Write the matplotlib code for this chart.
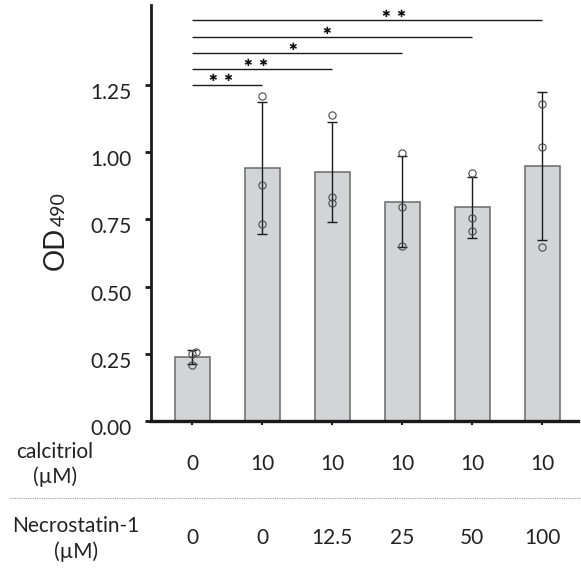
import matplotlib
matplotlib.use("Agg")
import matplotlib.pyplot as plt
import matplotlib.transforms as mtransforms
from matplotlib.lines import Line2D
import numpy as np

plt.rcParams['font.family'] = ['Lato', 'DejaVu Sans']

# ---------------- data ----------------
calcitriol = ["0", "10", "10", "10", "10", "10"]
necrostatin = ["0", "0", "12.5", "25", "50", "100"]
means = [0.238, 0.941, 0.927, 0.816, 0.795, 0.949]
sd = [0.026, 0.247, 0.186, 0.170, 0.113, 0.274]
points = [
    [0.258, 0.249, 0.208],
    [1.210, 0.877, 0.732],
    [1.138, 0.834, 0.810],
    [0.996, 0.795, 0.652],
    [0.921, 0.755, 0.708],
    [1.181, 1.019, 0.646],
]
point_dx = [
    [0.05, 0.0, 0.0],
    [0.0, 0.0, 0.0],
    [0.0, 0.0, 0.0],
    [0.0, 0.0, 0.0],
    [0.0, 0.0, 0.0],
    [0.0, 0.0, 0.0],
]
# significance brackets: (from group, to group, y level, label, label x)
sig_from = [0, 0, 0, 0, 0]
sig_to = [1, 2, 3, 4, 5]
sig_y = [1.250, 1.309, 1.368, 1.428, 1.491]
sig_label = ["✱  ✱", "✱  ✱", "✱", "✱", "✱  ✱"]
sig_label_x = [0.42, 0.91, 1.44, 1.92, 2.89]
yticks = [0.00, 0.25, 0.50, 0.75, 1.00, 1.25]
ytick_labels = ["0.00", "0.25", "0.50", "0.75", "1.00", "1.25"]

# ---------------- figure ----------------
fig = plt.figure(figsize=(5.81, 5.68), dpi=100)
ax = fig.add_axes([151/581, 1 - 421/568, (578 - 151)/581, (421 - 5)/568])

x = np.arange(len(means))
text_color = '#222222'

ax.bar(x, means, width=0.5, color='#d3d4d6', edgecolor='#6a6a6a',
       linewidth=1.1, zorder=2)
ax.errorbar(x, means, yerr=sd, fmt='none', ecolor='#1a1a1a',
            elinewidth=1.0, capsize=3.5, capthick=1.0, zorder=3)
for i, pts in enumerate(points):
    ax.plot(x[i] + np.array(point_dx[i]), pts, 'o', markersize=5.2,
            markerfacecolor='none', markeredgecolor='#4a4a4a',
            markeredgewidth=0.8, zorder=4)

for a, b, yy, lab, lx in zip(sig_from, sig_to, sig_y, sig_label, sig_label_x):
    ax.plot([x[a], x[b]], [yy, yy], color='#1a1a1a', lw=1.0, zorder=3,
            solid_capstyle='butt')
    ax.annotate(lab, xy=(lx, yy), xytext=(0, 1.2), textcoords='offset points',
                ha='center', va='bottom', fontsize=7.5, color='#111111',
                family=['DejaVu Sans'])

ax.set_xlim(-0.586, 5.51)
ax.set_ylim(0, 1.548)

for s in ['top', 'right']:
    ax.spines[s].set_visible(False)
ax.spines['left'].set_linewidth(2.0)
ax.spines['bottom'].set_linewidth(2.4)
ax.spines['left'].set_color('#1a1a1a')
ax.spines['bottom'].set_color('#1a1a1a')

ax.set_yticks(yticks)
ax.set_yticklabels(ytick_labels, fontsize=15, color=text_color)
ax.tick_params(axis='y', direction='out', length=4, width=2, pad=10,
               colors='#1a1a1a', labelcolor=text_color)
offset = mtransforms.ScaledTranslation(0, -6/100, fig.dpi_scale_trans)
for lab in ax.get_yticklabels():
    lab.set_transform(lab.get_transform() + offset)

ax.set_xticks(x)
ax.set_xticklabels([])
ax.tick_params(axis='x', direction='out', length=3, width=1.5,
               colors='#1a1a1a')

# bottom table of conditions
trans = mtransforms.blended_transform_factory(ax.transData, fig.transFigure)
row1_y = 1 - 464.5/568
row2_y = 1 - 537.5/568
for i in range(len(x)):
    ax.text(x[i], row1_y, calcitriol[i], transform=trans, ha='center',
            va='center', fontsize=15, color=text_color)
    ax.text(x[i], row2_y, necrostatin[i], transform=trans, ha='center',
            va='center', fontsize=15, color=text_color)
fig.text(55/581, row1_y, "calcitriol\n(\u00b5M)", ha='center', va='center',
         fontsize=15, color=text_color, linespacing=1.3)
fig.text(76/581, 1 - 539/568, "Necrostatin-1\n(\u00b5M)", ha='center',
         va='center', fontsize=15, color=text_color, linespacing=1.3)
fig.add_artist(Line2D([10/581, 1.0], [1 - 498/568, 1 - 498/568],
                      transform=fig.transFigure, color='#9a9a9a', lw=0.8,
                      linestyle=(0, (1, 1))))

# y label "OD" + smaller "490", rotated, sharing baseline
base_x = 64/581
start_y = 1 - 270/568
t1 = fig.text(base_x, start_y, "OD", rotation=90, rotation_mode='anchor',
              ha='left', va='baseline', fontsize=20, color=text_color)
fig.canvas.draw()
bb = t1.get_window_extent()
fig.text(base_x + 1/581, start_y + bb.height/568 + 1/568, "490", rotation=90,
         rotation_mode='anchor', ha='left', va='baseline', fontsize=14,
         color=text_color)

fig.savefig("out.png", dpi=100)
